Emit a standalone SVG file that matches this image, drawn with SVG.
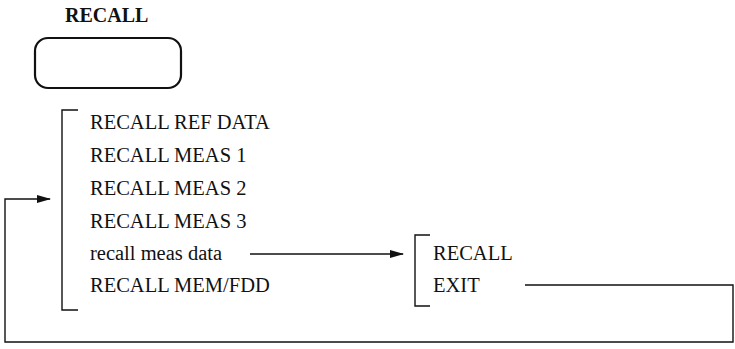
<svg xmlns="http://www.w3.org/2000/svg" width="735" height="349" viewBox="0 0 735 349">
<defs>
<marker id="ah" markerWidth="14" markerHeight="10" refX="13" refY="5" orient="auto" markerUnits="userSpaceOnUse">
<path d="M0,1 L14,5 L0,9 Z" fill="#111"/>
</marker>
<style>
.t{font-family:"Liberation Serif","Times New Roman",serif;font-size:20.5px;fill:#111}
.b{font-family:"Liberation Serif","Times New Roman",serif;font-size:20px;font-weight:bold;fill:#111}
.ln{fill:none;stroke:#111;stroke-width:1.4}
</style>
</defs>
<rect width="735" height="349" fill="#fff"/>
<g id="title"><text class="b" x="65" y="22">RECALL</text></g>
<g id="key"><rect x="35" y="38" width="146" height="50" rx="13" fill="none" stroke="#111" stroke-width="2.2"/></g>
<g id="menu1">
<path class="ln" d="M78,110 H62 V310 H78"/>
<text class="t" x="90" y="129">RECALL REF DATA</text>
<text class="t" x="90" y="162">RECALL MEAS 1</text>
<text class="t" x="90" y="195">RECALL MEAS 2</text>
<text class="t" x="90" y="228">RECALL MEAS 3</text>
<text class="t" x="90" y="260">recall meas data</text>
<text class="t" x="90" y="292">RECALL MEM/FDD</text>
</g>
<g id="menu2">
<path class="ln" d="M430,235 H415 V306 H430"/>
<text class="t" x="433" y="260">RECALL</text>
<text class="t" x="433" y="292">EXIT</text>
</g>
<g id="connectors">
<path class="ln" d="M250,254 H403" marker-end="url(#ah)"/>
<path class="ln" d="M525,285 H733 V342 H5 V199 H50" marker-end="url(#ah)"/>
</g>
</svg>
